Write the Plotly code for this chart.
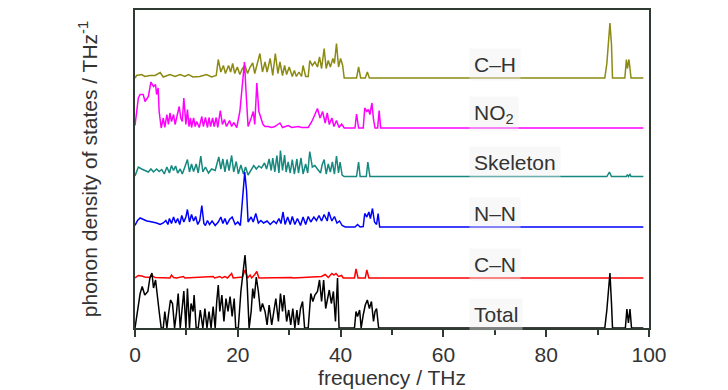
import plotly.graph_objects as go

# ---- data: (frequency THz, phonon DOS in arbitrary units) ----
ch_points = [(0,0),(0.3,0.05),(1.3,0.07),(1.9,0.03),(2.9,0.05),(3.9,0.05),(4.9,0.11),(5.5,0.02),(6.8,0.07),(7.8,0.03),
             (8.8,0.07),(9.7,0.03),(10.4,0.07),(11.3,0.02),(12.6,0.03),(13.9,0.07),(14.9,0.02),(15.8,0.05),(16.2,0.37),(16.7,0.12),
             (17.2,0.25),(17.6,0.09),(18.2,0.25),(18.6,0.12),(19.0,0.29),(19.4,0.09),(19.9,0.22),(20.4,0.07),(20.9,0.19),(21.4,0.25),
             (21.9,0.09),(22.4,0.22),(22.9,0.3),(23.3,0.09),(23.8,0.29),(24.3,0.49),(24.8,0.12),(25.3,0.32),(25.7,0.12),(26.3,0.39),
             (26.8,0.05),(27.3,0.49),(27.8,0.09),(28.2,0.32),(28.7,0.05),(29.1,0.25),(29.5,0.07),(30.0,0.22),(30.6,0.03),(31.0,0.15),
             (31.4,0.03),(31.9,0.12),(32.4,0.03),(32.7,0.25),(33.2,0.03),(33.7,0.03),(34.0,0.35),(34.5,0.25),(35.0,0.32),(35.5,0.22),
             (35.9,0.42),(36.3,0.19),(36.8,0.59),(37.2,0.19),(37.6,0.35),(38.0,0.22),(38.5,0.39),(38.8,0.29),(39.2,0.69),(39.6,0.22),
             (40.0,0.39),(40.4,0.25),(40.7,0),(43.1,0),(43.5,0.22),(43.9,0),(44.8,0),(45.2,0.12),(45.6,0),(91.4,0),
             (91.8,0.29),(92.1,0.75),(92.4,1.1),(92.7,0.67),(92.9,0),(95.3,0),(95.6,0.37),(95.8,0.19),(96.1,0.37),(96.3,0.19),
             (96.5,0),(98.9,0)]

no2_points = [(0,0.05),(0.3,0.35),(0.65,0.6),(1.0,0.67),(1.6,0.67),(1.95,0.53),(2.6,0.63),(3.1,0.92),(3.6,0.83),(4.0,0.87),
              (4.2,0.67),(4.5,0.8),(4.7,0.33),(5.1,0.0),(5.5,0.2),(5.8,0.01),(6.2,0.27),(6.5,0.07),(6.8,0.3),(7.1,0.13),
              (7.5,0.27),(7.8,0.07),(8.3,0.33),(8.6,0.43),(8.9,0.2),(9.2,0.13),(9.5,0.6),(9.9,0.07),(10.2,0.37),(10.5,0.03),
              (10.8,0.2),(11.0,0.01),(11.4,0.2),(11.7,0.03),(12.0,0.13),(12.5,0.01),(13.0,0.23),(13.3,0.03),(13.7,0.21),(14.1,0.01),
              (14.4,0.21),(14.7,0.03),(15.1,0.2),(15.4,0.03),(15.8,0.21),(16.1,0.01),(16.6,0.35),(17.0,0.07),(17.4,0.17),(17.8,0.03),
              (18.4,0.15),(18.8,0.03),(19.2,0.11),(19.8,0.01),(20.4,0.33),(20.8,0.73),(21.3,1.32),(21.6,0.73),(22.0,0.03),(22.6,0.2),
              (23.0,0.33),(23.3,0.07),(23.7,0.9),(24.1,0.33),(24.5,0.17),(24.9,0.07),(25.3,0.03),(25.9,0.03),(26.6,0.01),(27.2,0.03),
              (28.2,0.1),(28.7,0.01),(29.8,0.05),(30.5,0.01),(31.8,0.03),(32.4,0.01),(33.7,0.01),(34.4,0.13),(35.0,0.27),(35.5,0.39),
              (36.0,0.2),(36.5,0.33),(37.0,0.1),(37.4,0.3),(37.8,0.07),(38.3,0.2),(38.7,0.03),(39.2,0.15),(39.7,0.01),(40.2,0.08),
              (40.7,0),(42.8,0),(43.1,0.28),(43.5,0),(44.4,0),(44.7,0.4),(45.1,0.33),(45.4,0.37),(45.7,0.27),(46.1,0.5),
              (46.4,0.17),(46.7,0),(47.2,0),(47.5,0.35),(47.8,0),(98.9,0)]

skel_points = [(0,0.01),(0.65,0.19),(1.3,0.15),(1.9,0.12),(2.6,0.09),(3.1,0.15),(3.6,0.09),(4.2,0.15),(4.7,0.1),(5.2,0.14),
               (5.7,0.05),(6.2,0.19),(6.7,0.07),(7.1,0.22),(7.5,0.12),(7.9,0.21),(8.3,0.07),(8.8,0.15),(9.2,0.05),(9.7,0.19),
               (10.2,0.34),(10.6,0.09),(11.0,0.25),(11.4,0.1),(11.9,0.25),(12.3,0.07),(12.8,0.41),(13.2,0.09),(13.7,0.19),(14.3,0.07),
               (14.9,0.15),(15.6,0.12),(15.9,0.22),(16.3,0.39),(16.7,0.15),(17.1,0.35),(17.5,0.09),(17.9,0.34),(18.3,0.12),(18.8,0.42),
               (19.2,0.09),(19.7,0.3),(20.1,0.05),(20.6,0.23),(21.1,0.05),(21.5,0.19),(22.0,0.03),(22.6,0.15),(23.1,0.22),(23.6,0.15),
               (24.1,0.21),(24.6,0.17),(25.2,0.27),(25.6,0.15),(26.1,0.35),(26.5,0.12),(26.8,0.37),(27.2,0.09),(27.6,0.42),(28.0,0.07),
               (28.3,0.52),(28.7,0.12),(29.1,0.43),(29.4,0.09),(29.8,0.29),(30.2,0.07),(30.6,0.34),(31.0,0.05),(31.5,0.35),(31.8,0.07),
               (32.3,0.37),(32.7,0.05),(33.2,0.25),(33.6,0.07),(34.0,0.5),(34.5,0.19),(35.0,0.22),(35.5,0.15),(36.1,0.07),(36.4,0.23),
               (36.8,0.34),(37.2,0.05),(37.6,0.25),(38.0,0.09),(38.4,0.29),(38.8,0.05),(39.2,0.41),(39.6,0.07),(39.9,0.29),(40.3,0.03),
               (40.7,0),(43.1,0),(43.5,0.29),(43.8,0),(45.0,0),(45.3,0.29),(45.7,0),(91.8,0),(92.3,0.09),(92.7,0),
               (95.6,0),(95.8,0.04),(96.0,0),(96.3,0.04),(96.5,0),(98.9,0)]

nn_points = [(0,0.03),(0.5,0.13),(1.0,0.18),(1.6,0.15),(2.3,0.12),(2.9,0.11),(3.6,0.1),(4.2,0.08),(4.9,0.05),(5.5,0.08),
             (6.0,0.13),(6.4,0.05),(6.7,0.17),(7.1,0.07),(7.5,0.2),(7.9,0.08),(8.3,0.17),(8.7,0.05),(9.1,0.23),(9.5,0.1),
             (9.9,0.2),(10.2,0.35),(10.6,0.1),(11.0,0.25),(11.4,0.12),(11.8,0.21),(12.2,0.05),(12.6,0.13),(13.0,0.43),(13.4,0.07),
             (13.7,0.03),(14.1,0.13),(14.5,0.05),(15.0,0.12),(15.6,0.03),(16.2,0.1),(16.7,0.2),(17.1,0.07),(17.5,0.17),(17.9,0.05),
             (18.4,0.15),(18.9,0.2),(19.5,0.05),(20.0,0.1),(20.5,0.03),(20.8,0.37),(21.1,0.87),(21.35,1.1),(21.7,0.73),(22.0,0.1),
             (22.6,0.2),(23.0,0.1),(23.5,0.27),(24.0,0.08),(24.5,0.13),(25.0,0.08),(25.7,0.12),(26.3,0.05),(27.0,0.12),(27.5,0.07),
             (28.0,0.17),(28.4,0.07),(28.8,0.3),(29.2,0.05),(29.7,0.2),(30.2,0.05),(30.6,0.21),(31.1,0.05),(31.6,0.17),(32.2,0.03),
             (32.7,0.2),(33.2,0.05),(33.7,0.21),(34.2,0.1),(34.8,0.2),(35.3,0.13),(35.8,0.23),(36.3,0.12),(36.8,0.25),(37.4,0.12),
             (37.7,0.3),(38.3,0.12),(38.8,0.21),(39.3,0.08),(39.8,0.12),(40.3,0.03),(40.9,0),(42.8,0),(43.3,0.05),(43.8,0),
             (44.4,0.01),(44.7,0.27),(45.1,0.2),(45.5,0.3),(45.8,0.17),(46.2,0.37),(46.6,0.1),(47.0,0.05),(47.3,0.27),(47.6,0),
             (98.9,0)]

cn_points = [(0,0),(0.65,0.05),(1.3,0.04),(1.9,0.02),(2.9,0.01),(3.2,0.06),(3.9,0.01),(6.8,0),(7.1,0.06),(7.5,0.01),
             (8.1,0),(9.4,0.03),(9.7,0),(15.2,0.03),(15.5,0),(16.5,0.03),(16.9,0),(17.5,0.03),(18.0,0),(18.8,0.09),
             (19.1,0),(20.9,0.02),(21.4,0.16),(21.9,0),(22.4,0.06),(22.7,0),(23.3,0.07),(23.7,0.13),(24.1,0),(28.2,0.01),
             (28.5,0),(30.5,0.01),(30.8,0),(34.7,0.03),(35.7,0.04),(36.3,0.03),(37.0,0.07),(37.6,0.01),(38.3,0.09),(38.7,0.06),
             (39.1,0.09),(39.6,0.03),(40.2,0.05),(40.5,0),(42.7,0),(43.0,0.18),(43.4,0),(44.8,0),(45.1,0.16),(45.5,0),
             (98.9,0)]

total_points = [(0,0),(0.5,0.33),(1.0,0.69),(1.4,0.83),(1.9,0.66),(2.5,0.73),(2.9,1.0),(3.3,1.1),(3.6,0.8),(4.0,0.96),
                (4.4,0.66),(4.7,0.33),(5.1,0),(5.5,0),(5.8,0.33),(6.2,0),(6.5,0.26),(6.9,0.56),(7.3,0.49),(7.7,0),
                (8.1,0.33),(8.4,0.69),(8.8,0),(9.1,0.33),(9.5,0.74),(9.9,0),(10.2,0.79),(10.6,0),(10.9,0.49),(11.3,0.33),
                (11.5,0.66),(11.9,0),(12.3,0),(12.7,0.36),(13.2,0),(13.6,0.39),(14.0,0),(14.4,0.33),(14.8,0),(15.2,0.43),
                (15.6,0),(15.9,0.53),(16.2,0.86),(16.5,0.33),(16.9,0.66),(17.3,0.13),(17.7,0.59),(18.1,0.33),(18.5,0.63),(18.9,0.23),
                (19.3,0.59),(19.6,0),(20.1,0),(20.6,0.73),(20.9,1.0),(21.4,1.46),(21.8,0.93),(22.2,0),(22.6,0.33),(22.9,0.79),
                (23.2,0.59),(23.6,1.02),(24.0,0.73),(24.4,0.33),(24.8,0.49),(25.3,0.33),(25.7,0.06),(26.1,0.46),(26.6,0.06),(26.9,0.29),
                (27.4,0.59),(27.9,0.13),(28.3,0.69),(28.7,0.33),(29.0,0.66),(29.5,0.13),(29.9,0.36),(30.3,0.06),(30.7,0.39),(31.1,0),
                (31.5,0.36),(31.8,0.06),(32.2,0.39),(32.6,0.53),(33.0,0),(33.7,0),(34.2,0.69),(34.6,0.53),(35.0,0.66),(35.5,0.73),
                (35.9,0.96),(36.3,0.53),(36.7,0.96),(37.1,0.39),(37.4,0.59),(37.8,0.76),(38.2,0.49),(38.6,0.73),(39.0,0.13),(39.4,1.0),
                (39.7,0),(42.7,0),(43.0,0.33),(43.3,0.23),(43.7,0.36),(44.0,0),(44.4,0.26),(44.8,0.46),(45.2,0.56),(45.6,0.39),
                (46.0,0.53),(46.4,0.13),(46.7,0.33),(47.0,0.39),(47.4,0),(91.4,0),(91.8,0.36),(92.1,0.7),(92.4,1.1),(92.7,0.5),
                (92.9,0),(95.4,0),(95.7,0.38),(96.0,0.1),(96.3,0.38),(96.6,0),(98.9,0)]

series_names = ["C\u2013H", "NO<sub>2</sub>", "Skeleton", "N\u2013N", "C\u2013N", "Total"]
series_points = [ch_points, no2_points, skel_points, nn_points, cn_points, total_points]

x_tick_vals = [0, 20, 40, 60, 80, 100]
x_tick_text = ["0", "20", "40", "60", "80", "100"]

# ---- styling ----
offsets = [5.0, 4.0, 3.03, 2.02, 1.0, 0.0]
colors = ["#8c8a12", "#ff00ff", "#15887f", "#0000ff", "#ff0000", "#000000"]
FONT = "Liberation Sans, Arial, sans-serif"
FS = 21
TXT = "#333333"
AX = "#2f3a33"

fig = go.Figure()
for name, pts, off, col in zip(series_names, series_points, offsets, colors):
    xs = [p[0] for p in pts]
    ys = [p[1] + off for p in pts]
    fig.add_trace(go.Scatter(x=xs, y=ys, mode="lines", name=name,
                             line=dict(color=col, width=1.5), showlegend=False))
    fig.add_annotation(x=65, y=off + 0.28, xref="x", yref="y", text=name,
                       showarrow=False, xanchor="left", yanchor="middle",
                       font=dict(family=FONT, size=FS, color=TXT),
                       bgcolor="rgba(238,238,238,0.4)", borderpad=4)

# page body has an 8px margin: size the figure so the plot area lands where the reference has it
fig.update_layout(
    width=720, height=382,
    margin=dict(l=127, r=79, t=2, b=62),
    paper_bgcolor="white", plot_bgcolor="white",
    font=dict(family=FONT, size=FS, color=TXT),
)
fig.update_xaxes(range=[0, 100], tickvals=x_tick_vals, ticktext=x_tick_text,
                 ticks="outside", ticklen=7, tickwidth=1.5, tickcolor=AX,
                 minor=dict(dtick=10, tick0=0, ticks="outside", ticklen=5, tickwidth=1.5, tickcolor=AX),
                 showline=True, linecolor=AX, linewidth=1.5, mirror=True,
                 showgrid=False, zeroline=False, automargin=False,
                 tickfont=dict(family=FONT, size=FS, color=TXT),
                 title=dict(text="frequency / THz", font=dict(family=FONT, size=FS, color=TXT), standoff=0))
fig.update_yaxes(range=[0, 6.36], showticklabels=False, ticks="",
                 showline=True, linecolor=AX, linewidth=1.5, mirror=True,
                 showgrid=False, zeroline=False, automargin=False,
                 title=dict(text="phonon density of states / THz<sup>-1</sup>",
                            font=dict(family=FONT, size=FS, color=TXT), standoff=30))

fig.write_html("out.html")
